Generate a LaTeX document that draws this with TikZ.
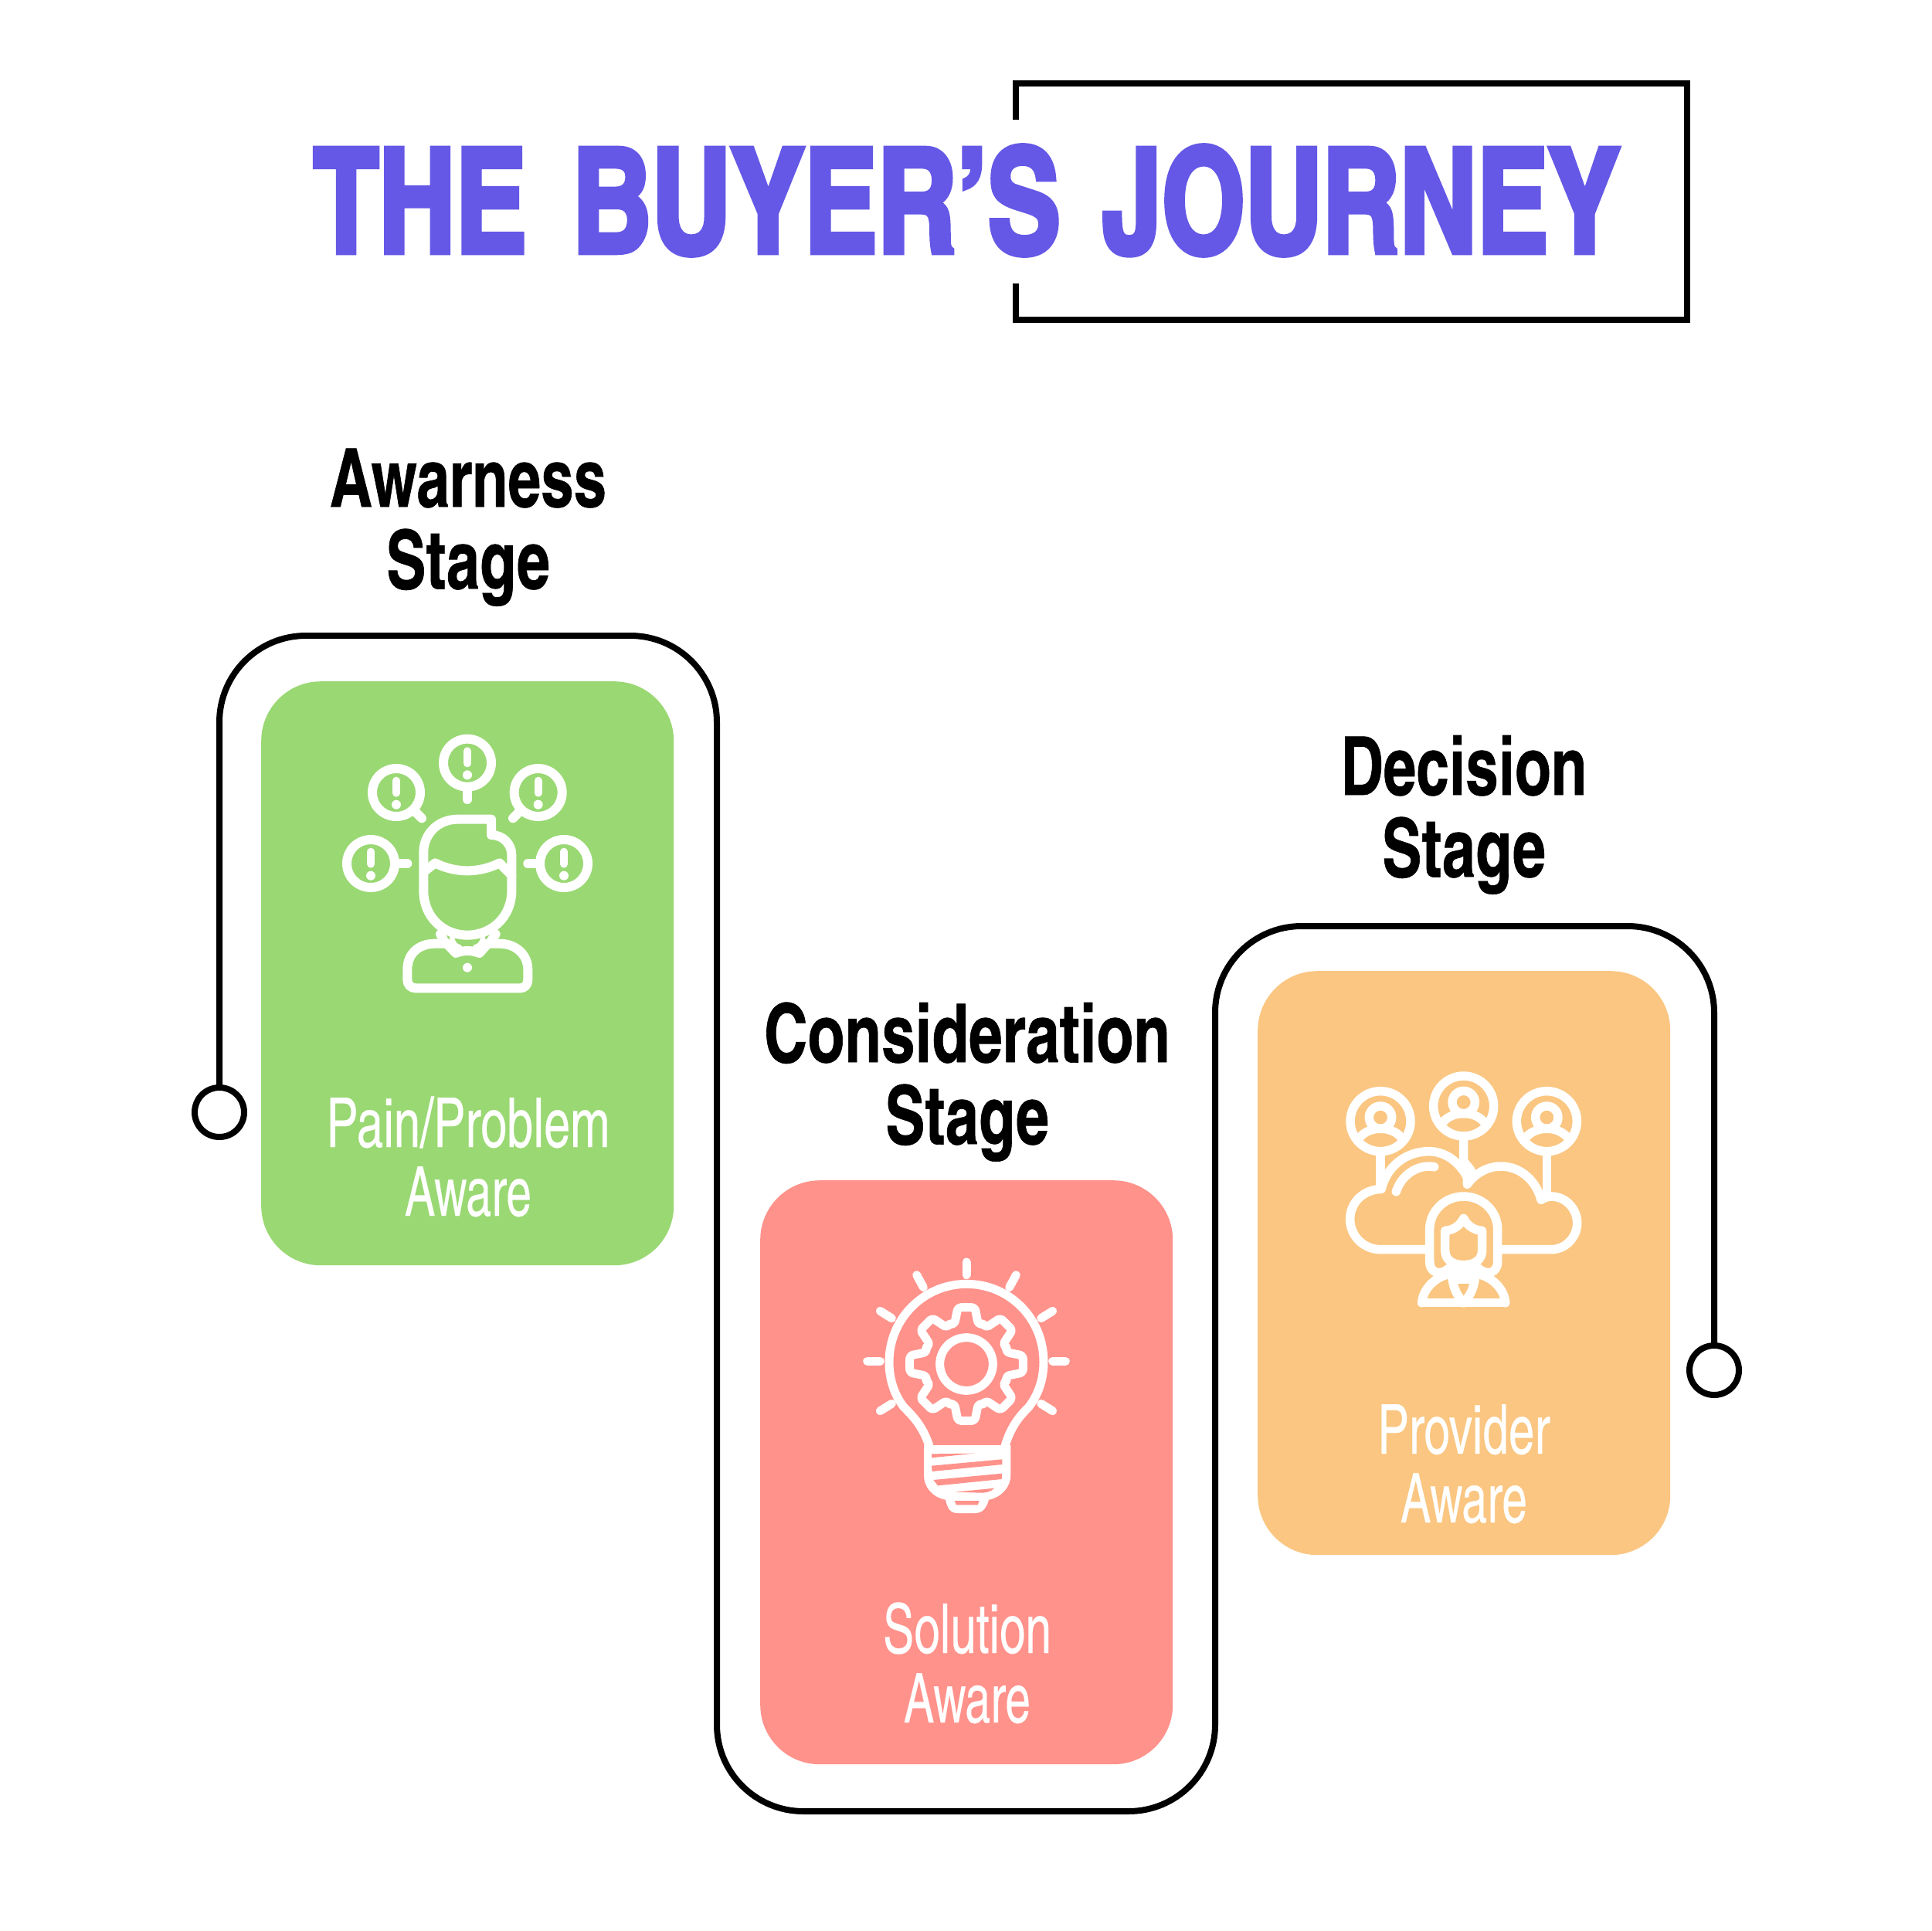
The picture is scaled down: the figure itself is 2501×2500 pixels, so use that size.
\documentclass[tikz,border=0pt]{standalone}
\usepackage{fontspec}
\usepackage{graphicx}
\setmainfont{TeX Gyre Heros}
\newfontfamily\titlefont[FakeBold=3.5]{TeX Gyre Heros Cn Bold}
\newfontfamily\headfont[FakeBold=0.6]{TeX Gyre Heros Cn Bold}
\newfontfamily\labelfont[FakeBold=0.2]{TeX Gyre Heros Cn}
\definecolor{titlecol}{HTML}{6558E6}
\definecolor{cardgreen}{HTML}{9AD873}
\definecolor{cardred}{HTML}{FF928B}
\definecolor{cardorange}{HTML}{FAC681}
\newcommand{\fitw}[2]{\resizebox{#1pt}{\height}{#2}}
\newcommand{\bangmark}[2]{%
  \draw[iconline,line width=10pt] (#1,#2-46) -- (#1,#2+2);
  \fill[white] (#1,#2+47) circle (18);}
\tikzset{
  card/.style={inner sep=0pt,rounded corners=77pt,minimum width=534pt,minimum height=756pt},
  heading/.style={inner sep=0pt,anchor=base,text=black,font=\headfont\fontsize{105pt}{105pt}\selectfont},
  cardlabel/.style={inner sep=0pt,anchor=base,text=white,font=\labelfont\fontsize{89pt}{89pt}\selectfont},
  titleword/.style={inner sep=0pt,anchor=base,text=titlecol,font=\titlefont\fontsize{188pt}{188pt}\selectfont},
  endcircle/.style={circle,draw=black,fill=white,line width=8pt,minimum size=64pt,inner sep=0pt},
  journey/.style={draw=black,line width=8pt,rounded corners=112pt},
  iconline/.style={draw=white,line width=12pt,line cap=round,line join=round},
}
\begin{document}
\begin{tikzpicture}[x=1pt,y=-1pt]
\useasboundingbox (0,0) rectangle (2501,2500);
\fill[white] (0,0) rectangle (2501,2500);
% title frame
\coordinate (fa) at (1315,155);
\coordinate (fb) at (1315,108);
\coordinate (fc) at (2184,108);
\coordinate (fd) at (2184,414);
\coordinate (fe) at (1315,414);
\coordinate (ff) at (1315,367);
\draw[black,line width=8pt] (fa) -- (fb) -- (fc) -- (fd) -- (fe) -- (ff);
\node[titleword] (t1) at (544,327) {\fitw{276}{THE}};
\node[titleword] (t2) at (1057,327) {\fitw{632}{BUYER’S}};
\node[titleword] (t3) at (1762,327) {\fitw{670}{JOURNEY}};
% cards
\node[card,fill=cardgreen,anchor=north west] (c1) at (338,882) {};
\node[card,fill=cardred,anchor=north west] (c2) at (984,1528) {};
\node[card,fill=cardorange,anchor=north west] (c3) at (1628,1257) {};
% journey line
\node[endcircle] (startc) at (284,1440) {};
\node[endcircle] (endc) at (2219,1774) {};
\coordinate (p1) at (284,823);
\coordinate (p2) at (928,823);
\coordinate (p3) at (928,2345);
\coordinate (p4) at (1573,2345);
\coordinate (p5) at (1573,1199);
\coordinate (p6) at (2219,1199);
\draw[journey] (startc.north) -- (p1) -- (p2) -- (p3) -- (p4) -- (p5) -- (p6) -- (endc.north);
% headings
\node[heading] (h1a) at (606,656) {\fitw{358}{Awarness}};
\node[heading] (h1b) at (606,762) {\fitw{212}{Stage}};
\node[heading] (h2a) at (1252,1375) {\fitw{526}{Consideration}};
\node[heading] (h2b) at (1252,1481) {\fitw{212}{Stage}};
\node[heading] (h3a) at (1895,1029) {\fitw{319}{Decision}};
\node[heading] (h3b) at (1895,1135) {\fitw{212}{Stage}};
% labels
\node[cardlabel] (l1a) at (606,1485) {\fitw{367}{Pain/Problem}};
\node[cardlabel] (l1b) at (606,1574) {\fitw{164}{Aware}};
\node[cardlabel] (l2a) at (1252,2140) {\fitw{218}{Solution}};
\node[cardlabel] (l2b) at (1252,2230) {\fitw{164}{Aware}};
\node[cardlabel] (l3a) at (1895,1882) {\fitw{223}{Provider}};
\node[cardlabel] (l3b) at (1895,1971) {\fitw{164}{Aware}};
% icon 1: person with alerts
\begin{scope}[shift={(400,920)},x=0.33333pt,y=-0.33333pt]
\foreach \cx/\cy in {615/203,339/318,890/318,240/594,990/594}{
  \draw[iconline] (\cx,\cy) circle (93);
  \bangmark{\cx}{\cy}
}
\draw[iconline] (615,300) -- (615,345);
\draw[iconline] (410,390) -- (438,418);
\draw[iconline] (820,390) -- (792,418);
\draw[iconline] (340,594) -- (382,594);
\draw[iconline] (890,594) -- (850,594);
\draw[iconline] (708,422) -- (578,422) .. controls (500,422) and (445,480) .. (445,550) -- (445,700)
  .. controls (445,800) and (520,872) .. (615,872) .. controls (710,872) and (787,800) .. (787,700)
  -- (787,560) .. controls (787,520) and (755,483) .. (708,483) -- cycle;
\draw[iconline] (447,625) -- (490,592) .. controls (570,632) and (660,632) .. (740,592) -- (787,640);
\draw[iconline] (510,868) -- (530,905);
\draw[iconline] (725,868) -- (700,905);
\draw[iconline] (540,905) -- (490,905) .. controls (420,905) and (382,950) .. (382,1005) -- (382,1045)
  .. controls (382,1065) and (395,1078) .. (415,1078) -- (820,1078)
  .. controls (838,1078) and (850,1065) .. (850,1045) -- (850,1005)
  .. controls (850,950) and (805,905) .. (740,905) -- (690,905);
\draw[iconline] (535,905) -- (570,942) .. controls (600,930) and (630,930) .. (662,942) -- (695,905);
\draw[iconline,line width=6pt] (555,880) .. controls (560,905) and (570,915) .. (585,918);
\draw[iconline,line width=6pt] (676,880) .. controls (671,905) and (660,915) .. (645,918);
\fill[white] (615,998) circle (18);
\end{scope}
% icon 2: bulb with gear
\begin{scope}[shift={(1090,1610)},x=0.33333pt,y=-0.33333pt]
\tikzset{iconline/.append style={line width=11pt}}
\foreach \ax/\ay/\bx/\by in {483/72/483/122,290/122/316/170,676/122/650/170,148/262/193/290,818/262/773/290,98/457/148/457,868/457/818/457,148/650/193/622,818/650/773/622}{
  \draw[iconline] (\ax,\ay) -- (\bx,\by);
}
\draw[iconline] (340,790) .. controls (315,710) and (275,670) .. (240,635)
  .. controls (205,590) and (183,530) .. (183,460)
  .. controls (183,290) and (320,157) .. (483,157)
  .. controls (650,157) and (783,290) .. (783,460)
  .. controls (783,530) and (760,590) .. (725,635)
  .. controls (690,670) and (655,710) .. (632,790);
\fill[white] (318,783) -- (655,783) -- (655,900) .. controls (655,945) and (620,985) .. (570,995)
  .. controls (560,1030) and (545,1047) .. (515,1047) -- (450,1047)
  .. controls (420,1047) and (410,1030) .. (402,995)
  .. controls (350,985) and (318,945) .. (318,900) -- cycle;
\fill[cardred] (348,817) -- (515,815) -- (348,832) -- cycle;
\fill[cardred] (348,863) -- (622,838) -- (622,858) -- (350,885) -- cycle;
\fill[cardred] (355,918) -- (622,893) -- (620,915) -- (372,940) -- cycle;
\fill[cardred] (440,965) -- (592,950) .. controls (575,965) and (560,968) .. (540,968) -- cycle;
\fill[cardred] (437,999) -- (533,999) -- (527,1015) -- (443,1015) -- cycle;
\draw[iconline] (483,468) circle (103);
\foreach \a in {0,45,...,315}{
  \begin{scope}[shift={(483,468)},rotate=\a]
  \draw[iconline,rounded corners=4pt] (155,-66) -- (155,-46) -- (220,-33) -- (220,33) -- (155,46) -- (155,66);
  \end{scope}
}
\end{scope}
% icon 3: people and cloud
\begin{scope}[shift={(1700,1370)},x=0.33333pt,y=-0.33333pt]
\tikzset{iconline/.append style={line width=11.5pt}}
\foreach \cx/\cy in {261/245,584/186,907/245}{
  \draw[iconline] (\cx,\cy) circle (117);
  \draw[iconline] (\cx,\cy-15) circle (44);
  \draw[iconline] (\cx-78,\cy+60) .. controls (\cx-40,\cy+18) and (\cx+40,\cy+18) .. (\cx+78,\cy+60);
}
\draw[iconline] (261,365) -- (261,495);
\draw[iconline] (584,305) -- (584,400) -- (612,435);
\draw[iconline] (907,365) -- (907,535);
\draw[iconline] (435,743) -- (262,743) .. controls (195,743) and (143,690) .. (143,625)
  .. controls (143,560) and (195,510) .. (265,508)
  .. controls (285,420) and (360,362) .. (450,362)
  .. controls (510,362) and (565,400) .. (598,462) -- (598,490)
  .. controls (630,445) and (680,420) .. (728,420)
  .. controls (805,420) and (865,475) .. (885,550)
  .. controls (900,540) and (915,537) .. (925,537)
  .. controls (980,537) and (1025,585) .. (1025,640)
  .. controls (1025,695) and (980,743) .. (925,743) -- (735,743);
\draw[iconline] (322,518) .. controls (340,460) and (400,410) .. (470,422);
\draw[iconline] (452,790) -- (452,665) .. controls (452,595) and (510,537) .. (584,537)
  .. controls (658,537) and (716,595) .. (716,665) -- (716,790)
  .. controls (716,830) and (680,850) .. (640,815);
\draw[iconline] (452,790) .. controls (452,830) and (488,850) .. (528,815);
\draw[iconline] (512,670) .. controls (545,668) and (570,650) .. (584,622)
  .. controls (598,650) and (623,668) .. (656,670) -- (656,745)
  .. controls (656,785) and (625,803) .. (584,803)
  .. controls (543,803) and (512,785) .. (512,745) -- cycle;
\draw[iconline] (553,830) -- (615,830);
\draw[iconline] (422,950) .. controls (425,900) and (470,850) .. (530,838);
\draw[iconline] (746,950) .. controls (743,900) and (698,850) .. (638,838);
\draw[iconline] (422,950) -- (746,950);
\draw[iconline] (540,855) .. controls (545,895) and (560,925) .. (584,950);
\draw[iconline] (628,855) .. controls (623,895) and (608,925) .. (584,950);
\draw[iconline] (545,860) -- (625,860);
\end{scope}
\end{tikzpicture}
\end{document}
